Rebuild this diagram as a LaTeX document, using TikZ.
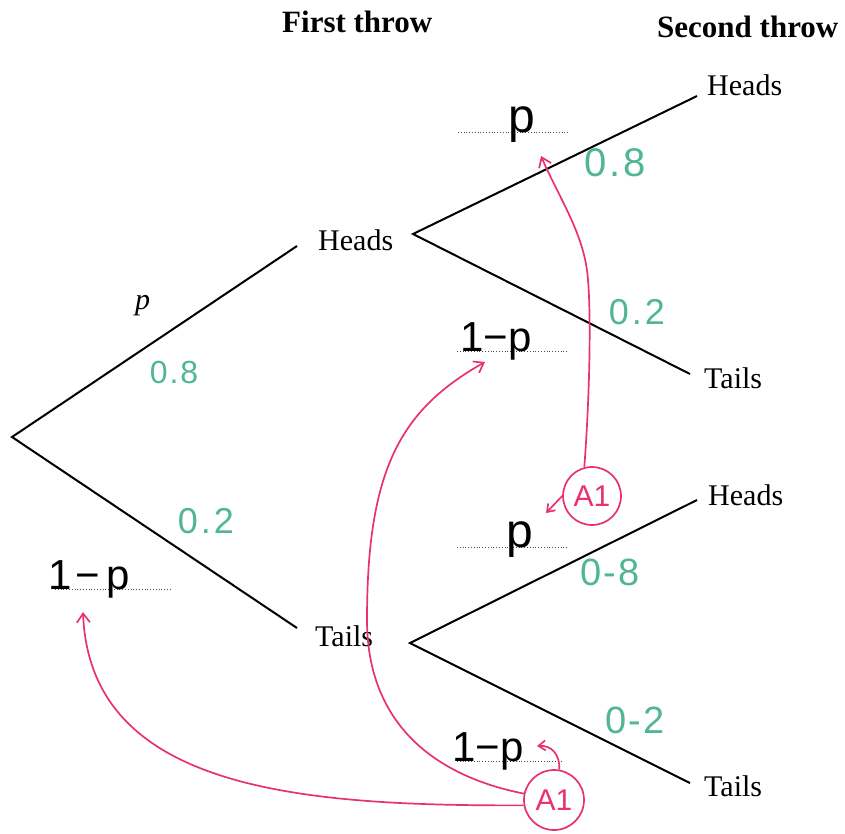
\documentclass[tikz,border=0pt]{standalone}
\usepackage{fontspec}
\setmainfont{Liberation Serif}
\newfontfamily\handfont{Liberation Sans}
\usetikzlibrary{arrows.meta}
\definecolor{hgreen}{RGB}{80,182,150}
\definecolor{hred}{RGB}{232,50,110}
\begin{document}
\begin{tikzpicture}[x=1pt,y=-1pt,
  branch/.style={line width=2pt},
  lbl/.style={font=\fontsize{30}{36}\selectfont, inner sep=0pt, anchor=base west},
  headtxt/.style={font=\bfseries\fontsize{31}{37}\selectfont, inner sep=0pt, anchor=base west},
  hand/.style={font=\handfont\fontsize{42}{48}\selectfont, inner sep=0pt, anchor=base west},
  handp/.style={font=\handfont\fontsize{48}{54}\selectfont, inner sep=0pt, anchor=base west},
  num/.style={font=\handfont\fontsize{36}{42}\selectfont, text=hgreen, inner sep=0pt},
  guide/.style={dotted, line width=0.8pt, black!70},
  redline/.style={hred, line width=1.7pt},
  redarrow/.style={redline, -{Straight Barb[length=9pt,width=13pt]}},
  smallarrow/.style={redline, -{Straight Barb[length=7pt,width=10pt]}},
  aone/.style={circle, draw=hred, line width=1.7pt, text=hred, font=\handfont\fontsize{30}{34}\selectfont, inner sep=0pt}
]
\useasboundingbox (0,0) rectangle (845,833);

% headings
\node[headtxt] (t1) at (282,32) {First throw};
\node[headtxt] (t2) at (657,37) {Second throw};

% tree
\coordinate (root) at (12,437);
\coordinate (fh) at (297,246);
\coordinate (ft) at (297,628);
\coordinate (sh) at (413,234);
\coordinate (st) at (410,643);
\coordinate (shh) at (697,96);
\coordinate (sht) at (690,374);
\coordinate (sth) at (697,500);
\coordinate (stt) at (690,783);
\draw[branch] (fh) -- (root) -- (ft);
\draw[branch] (shh) -- (sh) -- (sht);
\draw[branch] (sth) -- (st) -- (stt);

\node[lbl] (H1) at (318,250) {Heads};
\node[lbl] (T1) at (315,646) {Tails};
\node[lbl] (HH) at (707,95) {Heads};
\node[lbl] (HT) at (704,388) {Tails};
\node[lbl] (TH) at (708,505) {Heads};
\node[lbl] (TT) at (704,796) {Tails};
\node[lbl, font=\itshape\fontsize{30}{36}\selectfont] (pp) at (135,309) {p};

% dotted guides
\draw[guide] (458,132) -- (568,132);
\draw[guide] (457,351) -- (568,351);
\draw[guide] (457,547) -- (567,547);
\draw[guide] (457,761) -- (563,761);
\draw[guide] (55,589) -- (170,589);

% handwritten answers
\node[handp] (pu) at (508,132) {p};
\node[hand] (qu) at (460,351) {1−p};
\node[handp] (pm) at (506,547) {p};
\node[hand] (ql) at (452,761) {1−p};
\node[hand] (qleft) at (48,589) {1\hspace{4pt}−\hspace{6pt}p};

% green numbers
\node[num, font=\handfont\fontsize{32}{38}\selectfont] (g1) at (174,372) {0\hspace{2pt}.\hspace{2pt}8};
\node[num] (g2) at (206,521) {0\hspace{3pt}.\hspace{3pt}2};
\node[num, font=\handfont\fontsize{40}{46}\selectfont] (g3) at (615,163) {0\hspace{3pt}.\hspace{3pt}8};
\node[num] (g4) at (637,312) {0\hspace{3pt}.\hspace{3pt}2};
\node[num, font=\handfont\fontsize{38}{44}\selectfont] (g5) at (610,572) {0\hspace{2pt}-\hspace{2pt}8};
\node[num, font=\handfont\fontsize{38}{44}\selectfont] (g6) at (635,720) {0\hspace{2pt}-\hspace{2pt}2};

% A1 marks
\node[aone, minimum size=58pt] (a1u) at (592,496) {A1};
\node[aone, minimum size=60pt] (a1l) at (554,800) {A1};

% red arrows
\coordinate (tipA) at (541,156);
\coordinate (tipB) at (546,513);
\coordinate (tipC) at (485,362);
\coordinate (tipD) at (83,612);
\coordinate (tipE) at (537,746);
\draw[redarrow] (a1u.105) .. controls (588,420) and (592,330) .. (588,280)
                .. controls (585,235) and (560,200) .. (tipA);
\draw[smallarrow] (a1u.west) -- (tipB);
\draw[redarrow] (a1l.168) .. controls (430,775) and (367,720) .. (367,620)
                .. controls (367,470) and (400,410) .. (tipC);
\draw[redarrow] (a1l.190) .. controls (300,806) and (90,790) .. (tipD);
\draw[smallarrow] (a1l.80) .. controls (560,755) and (552,745) .. (tipE);
\end{tikzpicture}
\end{document}
